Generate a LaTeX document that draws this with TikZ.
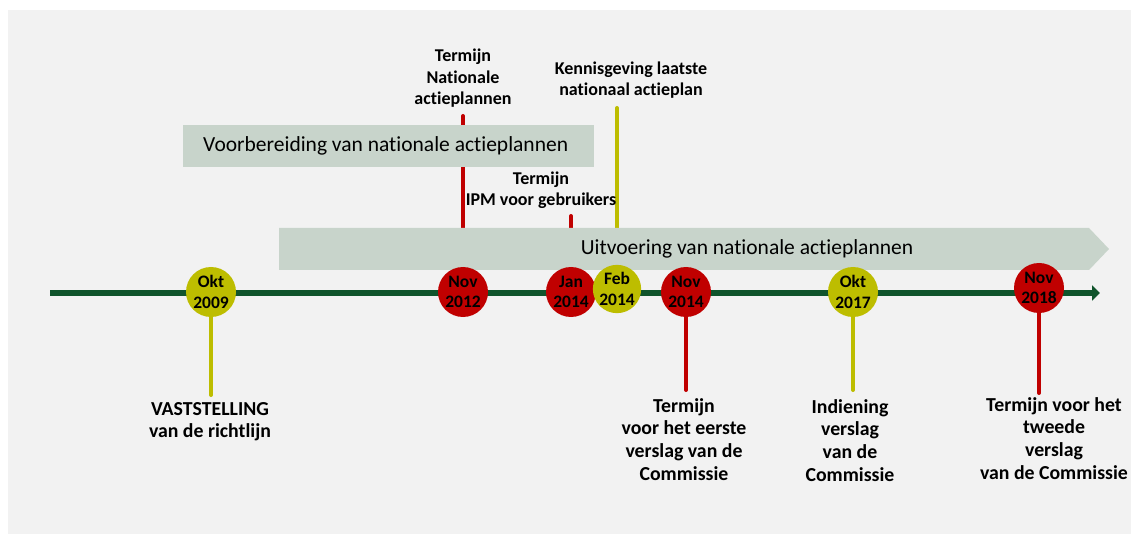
\documentclass[tikz,border=0pt]{standalone}
\usepackage{fontspec}
\setmainfont{Carlito}[Ligatures=NoCommon]
\usetikzlibrary{arrows.meta,backgrounds}

\definecolor{rood}{RGB}{192,0,0}
\definecolor{geel}{RGB}{189,189,0}
\definecolor{groen}{RGB}{16,84,44}
\definecolor{balk}{RGB}{200,212,203}
\definecolor{achter}{RGB}{242,242,242}

\begin{document}
\begin{tikzpicture}[x=1pt,y=-1pt,
    datum/.style={circle,minimum size=50pt,inner sep=0pt,align=center,
      font=\fontsize{17.5}{20.5}\selectfont\bfseries},
    tekst/.style={align=center,inner sep=1pt,
      font=\fontsize{19.8}{22.7}\selectfont\bfseries},
    boventekst/.style={align=center,inner sep=1pt,
      font=\fontsize{18}{21.5}\selectfont\bfseries},
    balktekst/.style={font=\fontsize{21.5}{25}\selectfont},
    steel/.style={line width=4pt,line cap=round}]
  \useasboundingbox (0,0) rectangle (1131,534);

  % mijlpalen op de tijdlijn
  \node[datum,fill=geel] (c2009) at (211,292) {Okt\\2009};
  \node[datum,fill=rood] (c2012) at (463,292) {Nov\\2012};
  \node[datum,fill=rood] (cjan) at (571,292) {Jan\\2014};
  \node[datum,fill=geel,minimum size=44pt] (cfeb) at (617,289) {Feb\\2014};
  \node[datum,fill=rood] (c2014) at (686,292) {Nov\\2014};
  \node[datum,fill=geel] (c2017) at (853,292) {Okt\\2017};
  \node[datum,fill=rood] (c2018) at (1039,288) {Nov\\2018};

  % teksten boven
  \node[boventekst,anchor=south] (l2012) at (463,109) {Termijn\\Nationale\\actieplannen};
  \node[boventekst,anchor=south] (ljan) at (541,210) {Termijn\\IPM voor gebruikers};
  \node[boventekst,anchor=south] (lfeb) at (631,100) {Kennisgeving laatste\\nationaal actieplan};

  % teksten onder
  \node[tekst,anchor=north] (l2009) at (210,401) {VASTSTELLING\\van de richtlijn};
  \node[tekst,anchor=north] (l2014) at (684,397) {Termijn\\voor het eerste\\verslag van de\\Commissie};
  \node[tekst,anchor=north] (l2017) at (850,398) {Indiening\\verslag\\van de\\Commissie};
  \node[tekst,anchor=north] (l2018) at (1054,396) {Termijn voor het\\tweede\\verslag\\van de Commissie};

  \begin{scope}[on background layer]
    \fill[achter] (8,10) rectangle (1131,534);
    \draw[steel,geel,shorten >=6pt] (c2009) -- (c2009 |- l2009.north);
    \draw[steel,rood,shorten >=7pt] (c2012) -- (c2012 |- l2012.south);
    \draw[steel,rood,shorten >=6pt] (cjan) -- (cjan |- ljan.south);
    \draw[steel,geel,shorten >=8pt] (cfeb) -- (cfeb |- lfeb.south);
    \draw[steel,rood,shorten >=7pt] (c2014) -- (c2014 |- l2014.north);
    \draw[steel,geel,shorten >=8pt] (c2017) -- (c2017 |- l2017.north);
    \draw[steel,rood,shorten >=3pt] (c2018) -- (c2018 |- l2018.north);
    % balken
    \node[fill=balk,anchor=west,minimum width=411pt,minimum height=42pt] (voorb) at (183,146) {};
    \node[balktekst,anchor=west,inner sep=0pt] (voorbtekst) at ([xshift=20pt]voorb.west)
      {Voorbereiding van nationale actieplannen};
    \fill[balk] (279,228) -- (1089,228) -- (1109,249) -- (1089,270) -- (279,270) -- cycle;
    \node[balktekst] (uitv) at (747,249) {Uitvoering van nationale actieplannen};
    % tijdlijn
    \coordinate (begin) at (50,293);
    \coordinate (eind) at (1100,293);
    \draw[groen,line width=6pt,-{Triangle[length=8pt,width=15pt]}] (begin) -- (eind);
  \end{scope}
\end{tikzpicture}
\end{document}
